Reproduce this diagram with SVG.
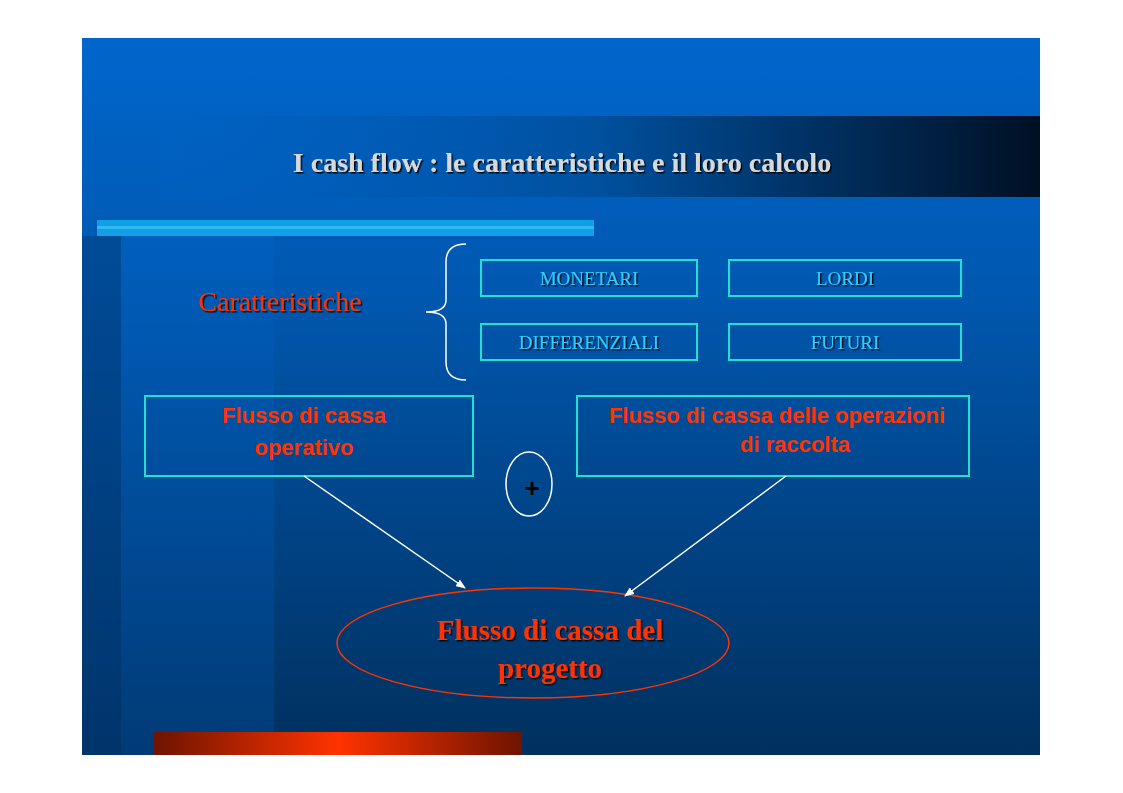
<svg xmlns="http://www.w3.org/2000/svg" width="1123" height="793" viewBox="0 0 1123 793">
<defs>
<linearGradient id="bg" x1="0" y1="0" x2="0" y2="1"><stop offset="0" stop-color="#0066cc"/><stop offset="0.35" stop-color="#0058b0"/><stop offset="1" stop-color="#00305e"/></linearGradient>
<linearGradient id="tb" x1="0" y1="0" x2="1" y2="0"><stop offset="0" stop-color="#0062c4" stop-opacity="0.3"/><stop offset="0.5" stop-color="#00509e"/><stop offset="1" stop-color="#001024"/></linearGradient>
<linearGradient id="rb" x1="0" y1="0" x2="1" y2="0"><stop offset="0" stop-color="#6e1400"/><stop offset="0.5" stop-color="#ff3300"/><stop offset="1" stop-color="#6e1400"/></linearGradient>
<linearGradient id="lb" x1="0" y1="0" x2="0" y2="1"><stop offset="0" stop-color="#0060c0"/><stop offset="1" stop-color="#003f80"/></linearGradient>
<marker id="ah" markerWidth="10" markerHeight="8" refX="9" refY="4" orient="auto" markerUnits="userSpaceOnUse"><path d="M0,0 L10,4 L0,8 z" fill="#fff"/></marker>
<filter id="sh"><feDropShadow dx="1.5" dy="1.5" stdDeviation="0.3" flood-color="#000" flood-opacity="0.9"/></filter>
</defs>
<style>
.box{fill:none;stroke:#22e0d0;stroke-width:2}
.cy{font-family:"Liberation Serif",serif;font-size:19px;fill:#33ccff;text-anchor:middle}
.rs{font-family:"Liberation Sans",sans-serif;font-weight:bold;font-size:22px;fill:#ff3300;text-anchor:middle}
.conn{stroke:#fff;stroke-width:1.5;fill:none;marker-end:url(#ah)}
</style>
<rect width="1123" height="793" fill="#fff"/>
<rect x="82" y="38" width="958" height="717" fill="url(#bg)"/>
<rect x="82" y="236" width="39" height="519" fill="#003a78" opacity="0.5"/>
<rect x="121" y="236" width="153" height="519" fill="url(#lb)" opacity="0.7"/>
<rect x="160" y="116" width="880" height="81" fill="url(#tb)"/>
<rect x="97" y="220" width="497" height="16" fill="#10a0e8"/>
<rect x="97" y="226" width="497" height="3" fill="#30b8f0"/>
<rect x="154" y="732" width="368" height="23" fill="url(#rb)"/>
<text x="562" y="172" font-family="Liberation Serif,serif" font-weight="bold" font-size="28" fill="#d8d8d8" text-anchor="middle" filter="url(#sh)">I cash flow : le caratteristiche e il loro calcolo</text>
<g id="caratteristiche"><text x="280" y="311" font-family="Liberation Serif,serif" font-size="28" fill="#ff3300" text-anchor="middle" filter="url(#sh)">Caratteristiche</text>
<path d="M466,244 Q446,244 446,262 L446,300 Q446,312 426,312 Q446,312 446,324 L446,362 Q446,380 466,380" fill="none" stroke="#fff" stroke-width="1.5"/></g>
<g id="monetari"><rect class="box" x="481" y="260" width="216" height="36"/><text class="cy" x="589" y="285" filter="url(#sh)">MONETARI</text></g>
<g id="lordi"><rect class="box" x="729" y="260" width="232" height="36"/><text class="cy" x="845" y="285" filter="url(#sh)">LORDI</text></g>
<g id="differenziali"><rect class="box" x="481" y="324" width="216" height="36"/><text class="cy" x="589" y="349" filter="url(#sh)">DIFFERENZIALI</text></g>
<g id="futuri"><rect class="box" x="729" y="324" width="232" height="36"/><text class="cy" x="845" y="349" filter="url(#sh)">FUTURI</text></g>
<g id="operativo"><rect class="box" x="145" y="396" width="328" height="80"/><text class="rs" x="304" y="423">Flusso di cassa</text><text class="rs" x="304" y="455">operativo</text></g>
<g id="raccolta"><rect class="box" x="577" y="396" width="392" height="80"/><text class="rs" x="777" y="423" font-size="20">Flusso di cassa delle operazioni</text><text class="rs" x="795" y="452" font-size="20">di raccolta</text></g>
<g id="plus"><ellipse cx="529" cy="484" rx="23" ry="32" fill="none" stroke="#fff" stroke-width="1.5"/><text x="532" y="497" font-family="Liberation Sans,sans-serif" font-weight="bold" font-size="26" fill="#000" text-anchor="middle">+</text></g>
<g id="progetto"><ellipse cx="533" cy="643" rx="196" ry="55" fill="none" stroke="#ff3300" stroke-width="1.5"/>
<text x="550" y="640" font-family="Liberation Serif,serif" font-weight="bold" font-size="29" fill="#ff3300" text-anchor="middle" filter="url(#sh)">Flusso di cassa del</text>
<text x="550" y="678" font-family="Liberation Serif,serif" font-weight="bold" font-size="29" fill="#ff3300" text-anchor="middle" filter="url(#sh)">progetto</text></g>
<g id="connectors"><line class="conn" x1="304" y1="476" x2="465" y2="588"/><line class="conn" x1="786" y1="476" x2="625" y2="596"/></g>
</svg>
